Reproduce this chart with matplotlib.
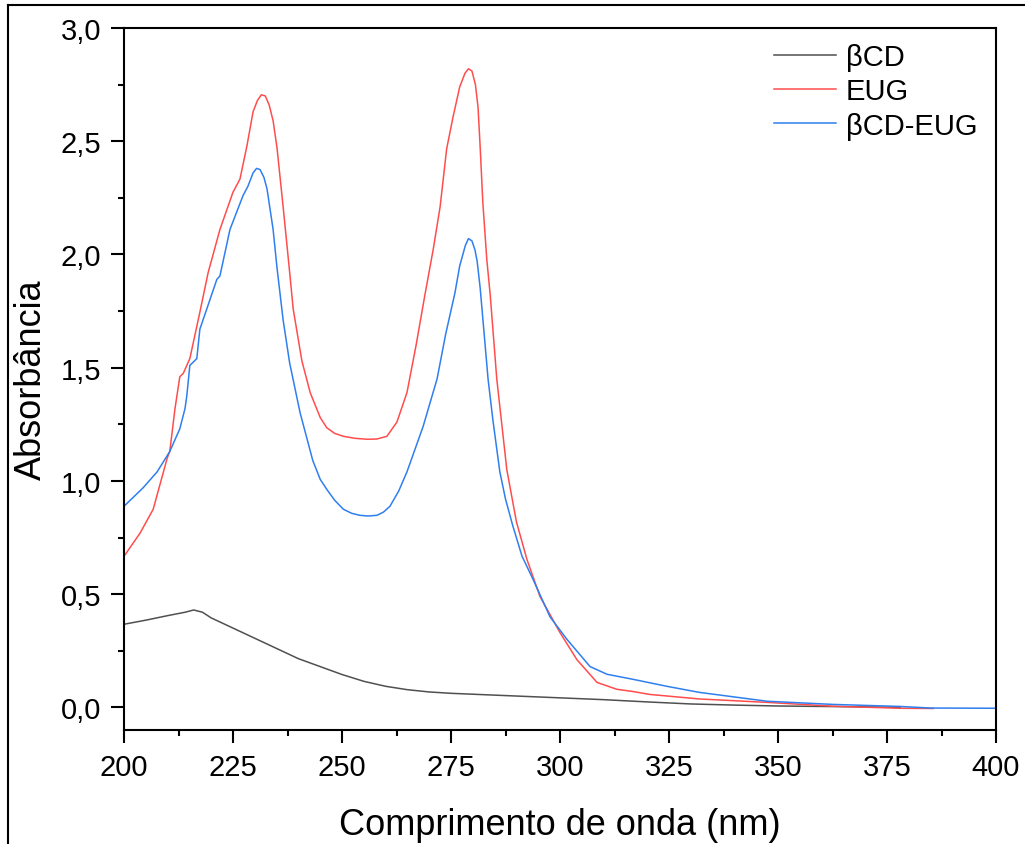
import matplotlib
matplotlib.use('Agg')
import matplotlib.pyplot as plt
from matplotlib.lines import Line2D
from matplotlib.ticker import MultipleLocator, FuncFormatter

plt.rcParams['font.family'] = ['Liberation Sans', 'DejaVu Sans']

# wavelength (nm) / absorbance
bcd_x = [200, 205, 210, 214, 216, 218, 220, 225, 230, 235, 240, 245, 250, 255, 260,
         265, 270, 275, 280, 290, 300, 310, 320, 330, 340, 350, 360, 370, 378]
bcd_y = [0.367, 0.385, 0.405, 0.42, 0.43, 0.42, 0.395, 0.35, 0.305, 0.26, 0.215, 0.18,
         0.145, 0.115, 0.093, 0.078, 0.068, 0.062, 0.058, 0.05, 0.042, 0.034, 0.024,
         0.015, 0.01, 0.006, 0.004, 0.002, 0.0]

eug_x = [200, 203.7, 206.7, 209.9, 210.5, 211.7, 212.8, 213.6, 215.1, 217.4, 219.3,
         222, 225, 226.6, 228.2, 229.6, 230.6, 231.5, 232.4, 233.3, 234.2, 235.1, 236.5,
         238, 238.8, 240.8, 242.7, 245, 246.5, 248.3, 250.3, 253, 255.7, 258, 260.3,
         262.6, 264.9, 267, 269, 270.9, 272.5, 274, 275.5, 277, 278.2, 279.0, 279.8,
         280.6, 281.2, 281.7, 282.3, 283.2, 284, 285.5, 287.8, 290, 292.4, 295.4, 300,
         303.9, 308.5, 313, 316.7, 320.6, 332, 347.5, 362.6, 378, 385.6]
eug_y = [0.667, 0.77, 0.875, 1.10, 1.13, 1.32, 1.46, 1.475, 1.54, 1.745, 1.92,
         2.11, 2.275, 2.333, 2.48, 2.63, 2.68, 2.705, 2.70, 2.66, 2.59, 2.47, 2.21,
         1.92, 1.76, 1.53, 1.39, 1.28, 1.235, 1.21, 1.197, 1.188, 1.184, 1.185, 1.197,
         1.26, 1.39, 1.6, 1.82, 2.02, 2.21, 2.466, 2.61, 2.74, 2.80, 2.82, 2.81,
         2.75, 2.65, 2.47, 2.23, 1.98, 1.82, 1.45, 1.05, 0.82, 0.654, 0.49, 0.33,
         0.21, 0.11, 0.08, 0.07, 0.057, 0.037, 0.022, 0.005, -0.004, -0.005]

mix_x = [200, 204.4, 207.6, 210.5, 212.8, 214, 214.4, 215.1, 216.7, 217.4, 219, 221.3,
         222, 224.3, 227.3, 228.4, 229.6, 230.4, 231.2, 232.1, 232.8, 234.2, 235.1,
         236.5, 238, 240.4, 243.3, 245, 246.5, 248.3, 250.3, 252.2, 254.1, 256, 258,
         259.5, 261, 263, 264.9, 268.6, 271.8, 273.8, 275.9, 277, 278.3, 279.0, 279.8,
         280.5, 281, 281.7, 283.5, 284.6, 286.2, 287.5, 289.2, 291.3, 293.8, 297.7,
         301.6, 306.9, 310.8, 316.7, 324.5, 332, 347.5, 362.6, 378, 385, 400]
mix_y = [0.888, 0.97, 1.04, 1.13, 1.23, 1.32, 1.375, 1.51, 1.54, 1.67, 1.76, 1.89,
         1.905, 2.11, 2.26, 2.30, 2.36, 2.38, 2.375, 2.34, 2.29, 2.11, 1.94,
         1.71, 1.52, 1.30, 1.09, 1.007, 0.963, 0.915, 0.875, 0.857, 0.848, 0.845, 0.848,
         0.862, 0.888, 0.955, 1.04, 1.24, 1.45, 1.65, 1.83, 1.95, 2.04, 2.07, 2.06,
         2.02, 1.97, 1.85, 1.45, 1.27, 1.04, 0.92, 0.80, 0.667, 0.566, 0.40,
         0.30, 0.18, 0.146, 0.124, 0.093, 0.066, 0.027, 0.013, 0.004, -0.003, -0.004]

fig = plt.figure(figsize=(10.25, 8.45), dpi=100)
ax = fig.add_axes([124 / 1025, 1 - 731 / 845, 872 / 1025, 702 / 845])

ax.plot(bcd_x, bcd_y, color='#505050', lw=1.1, label='βCD')
ax.plot(eug_x, eug_y, color='#ff4d4d', lw=1.1, label='EUG')
ax.plot(mix_x, mix_y, color='#2f7fef', lw=1.1, label='βCD-EUG')

ax.set_xlim(200, 400)
ax.set_ylim(-0.1, 3.0)
ax.xaxis.set_major_locator(MultipleLocator(25))
ax.xaxis.set_minor_locator(MultipleLocator(12.5))
ax.yaxis.set_major_locator(MultipleLocator(0.5))
ax.yaxis.set_minor_locator(MultipleLocator(0.25))
ax.yaxis.set_major_formatter(FuncFormatter(lambda v, p: f'{v:.1f}'.replace('.', ',')))

ax.tick_params(which='major', direction='out', length=9.5, width=1.5, labelsize=21, pad=7)
ax.tick_params(which='minor', direction='out', length=4.5, width=1.5)
ax.tick_params(top=False, right=False, which='both')
for s in ax.spines.values():
    s.set_linewidth(1.5)

ax.set_xlabel('Comprimento de onda (nm)', fontsize=26, labelpad=19)
ax.set_ylabel('Absorbância', fontsize=26, labelpad=8)

ax.legend(loc='upper right', frameon=False, fontsize=21, handlelength=2.1,
          handletextpad=0.35, labelspacing=0.22, borderaxespad=0.3,
          bbox_to_anchor=(1.002, 1.008))

# outer frame of the image
fig.add_artist(Line2D([8 / 1025, 8 / 1025], [0, 1 - 6 / 845], transform=fig.transFigure,
                      color='black', lw=1.5))
fig.add_artist(Line2D([8 / 1025, 1], [1 - 6 / 845, 1 - 6 / 845], transform=fig.transFigure,
                      color='black', lw=1.5))

fig.savefig('out.png', dpi=100)
